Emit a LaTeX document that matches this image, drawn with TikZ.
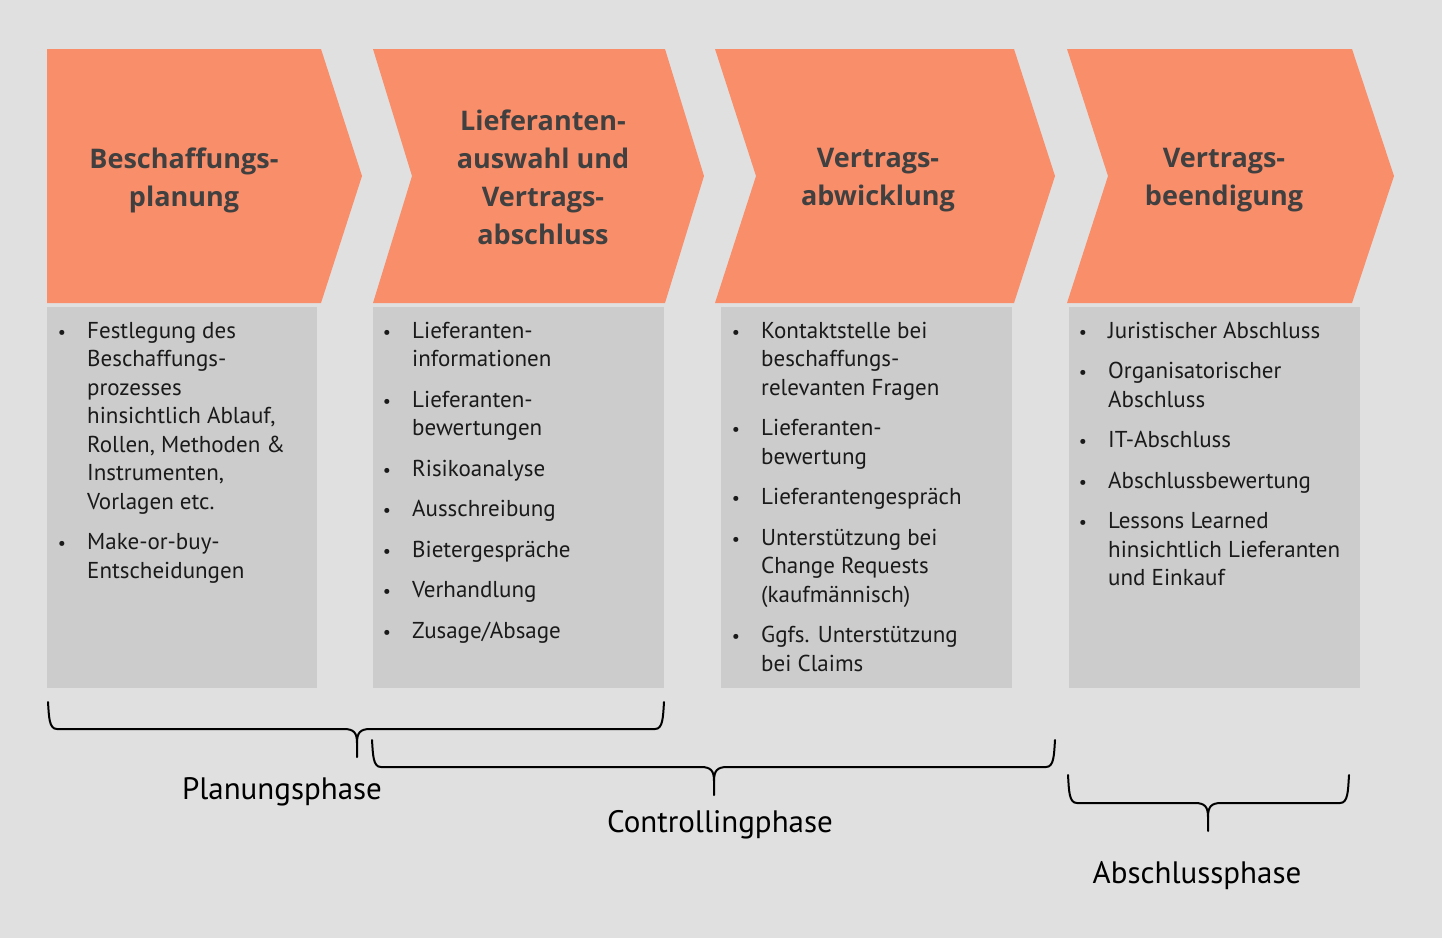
\documentclass[tikz,border=0pt]{standalone}
\usepackage{fontspec}
\setmainfont{PT Sans}
\newfontfamily\headfont{Open Sans}
\definecolor{bg}{HTML}{E0E0E0}
\definecolor{orng}{HTML}{F98E6A}
\definecolor{boxg}{HTML}{CCCCCC}
\definecolor{headc}{HTML}{404040}
\definecolor{txt}{HTML}{1A1A1A}
\tikzset{
  chev/.style={fill=orng, draw=none},
  gbox/.style={fill=boxg, draw=none},
  head/.style={align=center, text=headc, inner sep=0, font=\headfont\bfseries\fontsize{27}{38}\selectfont},
  itm/.style={anchor=base west, inner sep=0, text=txt, font=\fontsize{23}{28.5}\selectfont},
  bul/.style={anchor=base, inner sep=0, text=txt, font=\fontsize{18}{18}\selectfont},
  brace/.style={draw=black, line width=2pt, line cap=round, line join=round},
  phase/.style={anchor=base, inner sep=0, text=black, font=\fontsize{31}{36}\selectfont}
}
\newcommand\itm[4]{%
  \node[bul] (#1b) at ({#2-25},#3) {\textbullet};
  \node[itm] (#1) at (#2,#3) {\begin{tabular}[t]{@{}l@{}}#4\end{tabular}};
}
\newcommand\phbrace[6]{%
  \draw[brace] (#1,#4) .. controls ({#1+1},{#5-12}) and ({#1+1},#5) .. ({#1+9},#5) -- ({#3-13},#5) .. controls ({#3-3},#5) and (#3,{#5+4}) .. (#3,{#5+14}) -- (#3,#6);
  \draw[brace] (#3,{#5+14}) .. controls (#3,{#5+4}) and ({#3+3},#5) .. ({#3+13},#5) -- ({#2-9},#5) .. controls ({#2-1},#5) and ({#2-1},{#5-12}) .. (#2,#4);
}
\begin{document}
\begin{tikzpicture}[x=1pt,y=-1pt]
\fill[bg] (0,0) rectangle (1442,938);
\useasboundingbox (0,0) rectangle (1442,938);

% chevrons
\fill[chev] (47,49) -- (321,49) -- (362,176) -- (321,303) -- (47,303) -- cycle;
\fill[chev] (373,49) -- (665,49) -- (704,176) -- (665,303) -- (373,303) -- (412,176) -- cycle;
\fill[chev] (715,49) -- (1014,49) -- (1055,176) -- (1014,303) -- (715,303) -- (756,176) -- cycle;
\fill[chev] (1067,49) -- (1352,49) -- (1394,176) -- (1352,303) -- (1067,303) -- (1108,176) -- cycle;

\node[head] (h1) at (184,180) {Beschaffungs-\\planung};
\node[head] (h2) at (543,177) {Lieferanten-\\auswahl und\\Vertrags-\\abschluss};
\node[head] (h3) at (878,180) {Vertrags-\\abwicklung};
\node[head] (h4) at (1224,180) {Vertrags-\\beendigung};

% gray boxes
\fill[gbox] (47,307) rectangle (317,688);
\fill[gbox] (373,307) rectangle (664,688);
\fill[gbox] (721,307) rectangle (1012,688);
\fill[gbox] (1069,307) rectangle (1360,688);

% box 1
\itm{a1}{87}{338}{Festlegung des\\Beschaffungs-\\prozesses\\hinsichtlich Ablauf,\\Rollen, Methoden \&\\Instrumenten,\\Vorlagen etc.}
\itm{a2}{87}{549.5}{Make-or-buy-\\Entscheidungen}

% box 2
\itm{b1}{412}{338}{Lieferanten-\\informationen}
\itm{b2}{412}{407}{Lieferanten-\\bewertungen}
\itm{b3}{412}{476}{Risikoanalyse}
\itm{b4}{412}{516.5}{Ausschreibung}
\itm{b5}{412}{557}{Bietergespräche}
\itm{b6}{412}{597.5}{Verhandlung}
\itm{b7}{412}{638}{Zusage/Absage}

% box 3
\itm{c1}{761}{338}{Kontaktstelle bei\\beschaffungs-\\relevanten Fragen}
\itm{c2}{761}{435.5}{Lieferanten-\\bewertung}
\itm{c3}{761}{504.5}{Lieferantengespräch}
\itm{c4}{761}{545}{Unterstützung bei\\Change Requests\\(kaufmännisch)}
\itm{c5}{761}{642.5}{Ggfs. Unterstützung\\bei Claims}

% box 4
\itm{d1}{1108}{338}{Juristischer Abschluss}
\itm{d2}{1108}{378.5}{Organisatorischer\\Abschluss}
\itm{d3}{1108}{447.5}{IT-Abschluss}
\itm{d4}{1108}{488}{Abschlussbewertung}
\itm{d5}{1108}{528.5}{Lessons Learned\\hinsichtlich Lieferanten\\und Einkauf}

% braces
\phbrace{48}{664}{357}{702}{729}{757}
\phbrace{372}{1055}{714}{740}{767}{795}
\phbrace{1068}{1349}{1208}{775}{803}{831}

\node[phase] (p1) at (282,799) {Planungsphase};
\node[phase] (p2) at (720,832) {Controllingphase};
\node[phase] (p3) at (1197,883) {Abschlussphase};
\end{tikzpicture}
\end{document}
